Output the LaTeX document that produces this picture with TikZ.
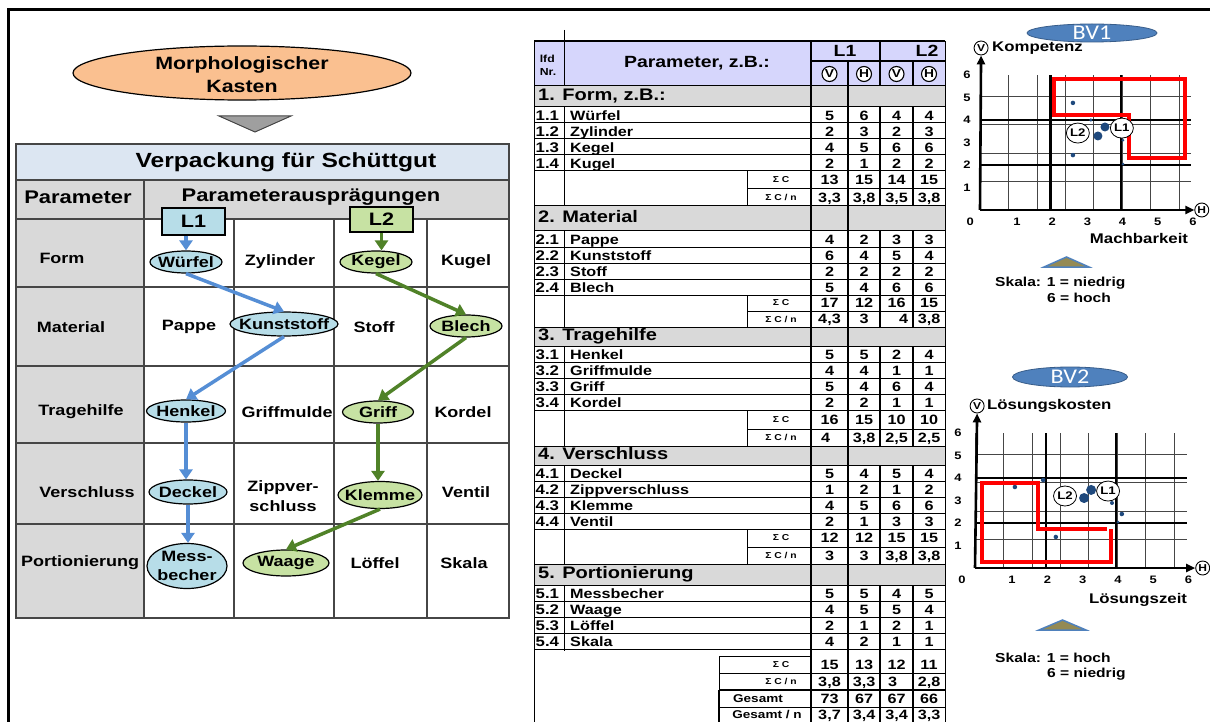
\documentclass[tikz,border=0pt]{standalone}
\usepackage{fontspec}
\setmainfont{Liberation Sans}[FakeStretch=1.2]
\newfontfamily\bvfont{Carlito}[FakeStretch=1.15]
\usetikzlibrary{shapes.geometric,arrows.meta}
\definecolor{morphfill}{RGB}{250,192,144}
\definecolor{titlefill}{RGB}{220,230,242}
\definecolor{hdrgrey}{RGB}{217,217,217}
\definecolor{lonefill}{RGB}{183,221,232}
\definecolor{ltwofill}{RGB}{199,226,163}
\definecolor{loneline}{RGB}{85,142,213}
\definecolor{ltwoline}{RGB}{80,130,40}
\definecolor{lavender}{RGB}{214,214,252}
\definecolor{bandgrey}{RGB}{217,217,217}
\definecolor{dotblue}{RGB}{31,73,125}
\definecolor{bvfill}{RGB}{79,129,189}
\definecolor{bvline}{RGB}{56,93,138}
\definecolor{olivefill}{RGB}{148,138,84}
\definecolor{gridgrey}{RGB}{70,70,70}
\newcommand{\fs}[1]{\fontsize{#1}{#1}\selectfont}
\tikzset{
  tl/.style={line width=1pt, black},
  tk/.style={line width=2.6pt, black},
  tm/.style={line width=1.8pt, black},
  ltab/.style={line width=1.3pt, gridgrey},
  cell/.style={font=\bfseries\fontsize{15}{19.5}\selectfont, align=center, inner sep=0pt},
  lone/.style={ellipse, draw=black, line width=1.2pt, fill=lonefill, inner sep=0pt},
  ltwo/.style={lone, fill=ltwofill},
  lonearr/.style={line width=3.5pt, loneline, -{Triangle[length=10pt,width=13pt]}},
  ltwoarr/.style={lonearr, ltwoline},
  dt/.style={font=\bfseries\fs{13.5}, inner sep=0pt, text height=9.7pt, text depth=0pt},
  nrt/.style={dt, font=\bfseries\fs{14}},
  bt/.style={font=\bfseries\fs{16.7}, inner sep=0pt, anchor=west, text height=12pt, text depth=3.4pt},
  st/.style={font=\bfseries\fs{8.6}, inner sep=0pt},
  vh/.style={circle, draw=black, fill=white, line width=1.1pt, inner sep=0pt, minimum size=15pt, font=\bfseries\fs{11.5}},
  vhs/.style={circle, draw=black, fill=white, line width=0.9pt, inner sep=0pt, minimum size=14pt, font=\bfseries\fs{10}},
  tick/.style={font=\bfseries\fs{10.8}, inner sep=0pt},
  ax/.style={line width=2.6pt, black, -{Triangle[length=9pt,width=8pt]}},
  dot/.style={circle, fill=dotblue, inner sep=0pt},
  lbl/.style={ellipse, draw=black, fill=white, line width=0.8pt, inner sep=0pt, minimum width=23pt, minimum height=20pt, font=\bfseries\fs{11}},
  redline/.style={red, line width=4pt, line join=miter},
  bv/.style={ellipse, fill=bvfill, draw=bvline, line width=0.8pt, inner sep=0pt},
  bvtext/.style={text=white, font=\bvfont\fs{21}, inner sep=0pt},
  skala/.style={font=\bfseries\fs{13}, inner sep=0pt, anchor=west},
  axlab/.style={font=\bfseries\fs{14}, inner sep=0pt},
}
% data row: top, id, nr, label, v1..v4
\newcommand{\drow}[8]{%
  \draw[tl] (534,#1+16) -- (945,#1+16);
  \node[nrt, anchor=west] (nr#2) at (535.5,#1+8.5) {#3};
  \node[dt, anchor=west] (lb#2) at (570,#1+8.5) {#4};
  \node[dt] (va#2) at (829.5,#1+8.5) {#5};
  \node[dt] (vb#2) at (864,#1+8.5) {#6};
  \node[dt] (vc#2) at (896.5,#1+8.5) {#7};
  \node[dt] (vd#2) at (929,#1+8.5) {#8};
}
% band: top, bottom, id, text
\newcommand{\band}[4]{%
  \fill[bandgrey] (534,#1) rectangle (945,#2);
  \draw[tl] (534,#1) -- (945,#1);
  \draw[tl] (534,#2) -- (945,#2);
  \node[bt] (band#3) at (538,{(#1+#2)/2}) {#4};
}
% sum row: left, top, bottom, id, label, v1..v4
\newcommand{\srow}[9]{%
  \draw[tl] (#1,#2) -- (811,#2) (#1,#3) -- (945,#3) (#1,#2) -- (#1,#3);
  \node[st] (sl#4) at (781,{(#2+#3)/2}) {#5};
  \node[dt] (sa#4) at (829.5,{(#2+#3)/2}) {#6};
  \node[dt] (sb#4) at (864,{(#2+#3)/2}) {#7};
  \node[dt] (sc#4) at (896.5,{(#2+#3)/2}) {#8};
  \node[dt] (sd#4) at (929,{(#2+#3)/2}) {#9};
}
% ellipse with text: style, name, x, y, w, h, text
\newcommand{\ellnode}[7]{%
  \node[#1, minimum width=#5, minimum height=#6] (#2) at (#3,#4) {};
  \node[cell] (#2T) at (#3,#4) {#7};
}
\begin{document}
\begin{tikzpicture}[x=1pt,y=-1pt]
\useasboundingbox (0,0) rectangle (1210,722);
\clip (0,0) rectangle (1210,722);
\fill[white] (0,0) rectangle (1210,722);
% outer frame
\draw[line width=3pt, black] (8,10) rectangle (1240,760);

% ---------------- left part ----------------
\node[ellipse, draw=black, line width=1.2pt, fill=morphfill, minimum width=338, minimum height=54, inner sep=0pt] (morph) at (242,73) {};
\node[font=\bfseries\fontsize{17.8}{23}\selectfont, align=center, inner sep=0pt] (morphT) at (242,75) {Morphologischer\\Kasten};
\fill[gray!75, draw=gridgrey, line width=1pt] (219,116) -- (291,116) -- (255,132) -- cycle;

\fill[titlefill] (16,144) rectangle (509,180);
\fill[hdrgrey] (16,180) rectangle (509,219);
\fill[hdrgrey] (16,219) rectangle (144,618);
\draw[ltab] (16,144) rectangle (509,618);
\draw[ltab] (16,180) -- (509,180) (16,219) -- (509,219) (16,287) -- (509,287)
  (16,366) -- (509,366) (16,443) -- (509,443) (16,524) -- (509,524);
\draw[ltab] (144,180) -- (144,618) (234,219) -- (234,618) (334,219) -- (334,618) (427,219) -- (427,618);

\node[font=\bfseries\fs{20.5}, inner sep=0pt] (title) at (286,162) {Verpackung für Schüttgut};
\node[font=\bfseries\fs{18.3}, inner sep=0pt] (hpar) at (78,197) {Parameter};
\node[font=\bfseries\fs{18.3}, inner sep=0pt] (haus) at (311,197) {Parameterausprägungen};

\node[cell] (rform) at (62,258) {Form};
\node[cell] (rmat) at (71,327) {Material};
\node[cell] (rtrag) at (81,412) {Tragehilfe};
\node[cell] (rvers) at (87,492) {Verschluss};
\node[cell] (rport) at (80,563) {Portionierung};

\ellnode{lone}{wuerfel}{186}{262}{72}{22}{Würfel}
\node[cell] (zyl) at (280,262) {Zylinder};
\ellnode{ltwo}{kegel}{376}{262}{72}{22}{Kegel}
\node[cell] (kugel) at (466,262) {Kugel};

\node[cell] (pappe) at (189,327) {Pappe};
\ellnode{lone}{kunst}{284}{324}{108}{24}{Kunststoff}
\node[cell] (stoff) at (374,327) {Stoff};
\ellnode{ltwo}{blech}{466}{326}{72}{22}{Blech}

\ellnode{lone}{henkel}{186}{411}{79}{22}{Henkel}
\node[cell] (griffm) at (287,412) {Griffmulde};
\ellnode{ltwo}{griff}{378}{412}{71}{22}{Griff}
\node[cell] (kordel) at (463,412) {Kordel};

\ellnode{lone}{deckel}{188}{492}{78}{24}{Deckel}
\node[cell] (zipp) at (283,496) {Zippver-\\schluss};
\ellnode{ltwo}{klemme}{380}{495}{84}{27}{Klemme}
\node[cell] (ventil) at (466,492) {Ventil};

\ellnode{lone}{mess}{187}{566}{80}{45}{Mess-\\becher}
\ellnode{ltwo}{waage}{286}{563}{86}{26}{Waage}
\node[cell] (loeffel) at (375,563) {Löffel};
\node[cell] (skalaL) at (464,563) {Skala};

\node[draw=black, line width=1.2pt, fill=lonefill, minimum width=63, minimum height=27, inner sep=0pt, font=\bfseries\fs{18}] (Lone) at (193.5,221.5) {L1};
\node[draw=black, line width=1.2pt, fill=ltwofill, minimum width=63, minimum height=25, inner sep=0pt, font=\bfseries\fs{18}] (Ltwo) at (381.5,219.5) {L2};

\draw[lonearr] (Lone.south -| wuerfel.north) -- (wuerfel.north);
\draw[lonearr] (wuerfel.south) -- (kunst.north);
\draw[lonearr] (kunst.south) -- (henkel.north);
\draw[lonearr] (henkel.south) -- (henkel.south |- deckel.north);
\draw[lonearr] (deckel.south) -- (deckel.south |- mess.north);

\draw[ltwoarr] (Ltwo.south) -- (Ltwo.south |- kegel.north);
\draw[ltwoarr] (kegel.south) -- (blech.north);
\draw[ltwoarr] (blech.south) -- (griff.north);
\draw[ltwoarr] (griff.south) -- (griff.south |- klemme.north);
\draw[ltwoarr] (klemme.south) -- (waage.north);

% ---------------- middle table ----------------
\fill[lavender] (534,41) rectangle (945,86);
\draw[tm] (534,41) -- (945,41);
\draw[tl] (564,30) -- (564,86);
\draw[tm] (811,61) -- (945,61);
\draw[tm] (880,41) -- (880,86) (913,61) -- (913,86);
\node[font=\bfseries\fontsize{10.2}{13}\selectfont, align=left, inner sep=0pt] (lfd) at (548,65) {lfd\\Nr.};
\node[font=\bfseries\fs{16.2}, inner sep=0pt] (hpz) at (697,63) {Parameter, z.B.:};
\node[font=\bfseries\fs{16.2}, inner sep=0pt] (hLone) at (845,51) {L1};
\node[font=\bfseries\fs{16.2}, inner sep=0pt] (hLtwo) at (927,51) {L2};
\node[vh] (hVa) at (829.5,74) {V};
\node[vh] (hHa) at (864,74) {H};
\node[vh] (hVb) at (896.5,74) {V};
\node[vh] (hHb) at (929,74) {H};

\band{86}{107}{1}{1. Form, z.B.:}
\drow{107}{11}{1.1}{Würfel}{5}{6}{4}{4}
\drow{123}{12}{1.2}{Zylinder}{2}{3}{2}{3}
\drow{139}{13}{1.3}{Kegel}{4}{5}{6}{6}
\drow{155}{14}{1.4}{Kugel}{2}{1}{2}{2}
\srow{747}{171}{189}{1a}{Σ C}{13}{15}{14}{15}
\srow{747}{189}{206}{1b}{Σ C / n}{3,3}{3,8}{3,5}{3,8}

\band{206}{231}{2}{2. Material}
\drow{231}{21}{2.1}{Pappe}{4}{2}{3}{3}
\drow{247}{22}{2.2}{Kunststoff}{6}{4}{5}{4}
\drow{263}{23}{2.3}{Stoff}{2}{2}{2}{2}
\drow{279}{24}{2.4}{Blech}{5}{4}{6}{6}
\srow{747}{295}{311}{2a}{Σ C}{17}{12}{16}{15}
\srow{747}{311}{327}{2b}{Σ C / n}{4,3}{3}{\hspace*{14pt}4}{3,8}

\band{327}{346}{3}{3. Tragehilfe}
\drow{346}{31}{3.1}{Henkel}{5}{5}{2}{4}
\drow{362}{32}{3.2}{Griffmulde}{4}{4}{1}{1}
\drow{378}{33}{3.3}{Griff}{5}{4}{6}{4}
\drow{394}{34}{3.4}{Kordel}{2}{2}{1}{1}
\srow{747}{410}{429}{3a}{Σ C}{16}{15}{10}{10}
\srow{747}{429}{446}{3b}{Σ C / n}{4\hspace*{8pt}}{3,8}{2,5}{2,5}

\band{446}{465}{4}{4. Verschluss}
\drow{465}{41}{4.1}{Deckel}{5}{4}{5}{4}
\drow{481}{42}{4.2}{Zippverschluss}{1}{2}{1}{2}
\drow{497}{43}{4.3}{Klemme}{4}{5}{6}{6}
\drow{513}{44}{4.4}{Ventil}{2}{1}{3}{3}
\srow{747}{529}{547}{4a}{Σ C}{12}{12}{15}{15}
\srow{747}{547}{564}{4b}{Σ C / n}{3}{3}{3,8}{3,8}

\band{564}{585}{5}{5. Portionierung}
\drow{585}{51}{5.1}{Messbecher}{5}{5}{4}{5}
\drow{601}{52}{5.2}{Waage}{4}{5}{5}{4}
\drow{617}{53}{5.3}{Löffel}{2}{1}{2}{1}
\drow{633}{54}{5.4}{Skala}{4}{2}{1}{1}
\srow{719}{656}{673}{5a}{Σ C}{15}{13}{12}{11}
\srow{719}{673}{690}{5b}{Σ C / n}{3,8}{3,3}{3\hspace*{8pt}}{2,8}
\draw[tl] (719,707) -- (945,707);
\draw[tm] (719,690) -- (945,690) (719,690) -- (719,730);
\node[font=\bfseries\fs{11.3}, inner sep=0pt] (ges) at (758,699) {Gesamt};
\node[dt] (gesa) at (829.5,698.5) {73};
\node[dt] (gesb) at (864,698.5) {67};
\node[dt] (gesc) at (896.5,698.5) {67};
\node[dt] (gesd) at (929,698.5) {66};
\node[font=\bfseries\fs{11.3}, inner sep=0pt] (gesn) at (767,714.5) {Gesamt / n};
\node[dt] (gesna) at (829.5,714.5) {3,7};
\node[dt] (gesnb) at (864,714.5) {3,4};
\node[dt] (gesnc) at (896.5,714.5) {3,4};
\node[dt] (gesnd) at (929,714.5) {3,3};

% vertical lines of the middle table
\draw[tl] (534,41) -- (534,730) (945,41) -- (945,730);
\draw[tk] (811,41) -- (811,730) (848,61) -- (848,730);
\draw[tl] (564,107) -- (564,206) (564,231) -- (564,327) (564,346) -- (564,446) (564,465) -- (564,564) (564,585) -- (564,651);
\draw[tm] (880,107) -- (880,206) (880,231) -- (880,327) (880,346) -- (880,446) (880,465) -- (880,564) (880,585) -- (880,730);
\draw[tm] (913,107) -- (913,206) (913,231) -- (913,327) (913,346) -- (913,446) (913,465) -- (913,564) (913,585) -- (913,730);

% ---------------- chart BV1 ----------------
\node[bv, minimum width=130, minimum height=18] (bvone) at (1092,33) {};
\node[bvtext] (bvoneT) at (1092,33) {BV1};
\begin{scope}[shift={(980,210)}, x=35.2pt, y=22.5pt]
  \draw[gridgrey, line width=0.8pt] (0,0) grid (6,6);
  \draw[black, line width=2.2pt] (2,0) -- (2,6) (4,0) -- (4,6) (0,2) -- (6,2) (0,4) -- (6,4);
  \draw[redline] (2.1,5.82) -- (5.82,5.82) -- (5.82,2.31) -- (4.23,2.31) -- (4.23,4.22) -- (2.1,4.22) -- cycle;
  \node[vhs] (aV) at (0.03,7.2) {V};
  \node[vhs] (aH) at (6.3,0) {H};
  \draw[ax] (0,0) -- (aV.south);
  \draw[ax] (0,0) -- (aH.west);
  \node[axlab, anchor=west] (akomp) at (0.34,7.2) {Kompetenz};
  \node[dot, minimum size=4.5pt] (ad1) at (2.64,4.76) {};
  \node[dot, minimum size=4.5pt] (ad2) at (2.64,2.44) {};
  \node[dot, minimum size=3.5pt] (ad3) at (3.15,4.0) {};
  \node[dot, minimum size=3pt] (ad4) at (4.06,2.04) {};
  \node[dot, minimum size=3pt] (ad5) at (4.06,3.1) {};
  \node[dot, minimum size=9pt] (ad6) at (3.55,3.69) {};
  \node[dot, minimum size=9pt] (ad7) at (3.35,3.29) {};
  \node[lbl] (aLtwo) at (2.78,3.42) {L2};
  \node[lbl] (aLone) at (4.03,3.64) {L1};
  \foreach \i in {1,...,6} {\node[tick] (axt\i) at (\i+0.05,-0.53) {\i};}
  \foreach \j in {1,...,6} {\node[tick] (ayt\j) at (-0.37,\j) {\j};}
  \node[tick] (aorig) at (-0.28,-0.53) {0};
\end{scope}
\node[axlab] (mach) at (1139,238) {Machbarkeit};
\fill[olivefill, draw=bvfill, line width=1.5pt] (1044,267) -- (1089,267) -- (1066.5,257) -- cycle;
\node[skala] (skaone) at (995,283) {Skala: 1 = niedrig};
\node[skala] (skatwo) at (1047,298) {6 = hoch};

% ---------------- chart BV2 ----------------
\node[bv, minimum width=115, minimum height=20] (bvtwo) at (1070,377) {};
\node[bvtext] (bvtwoT) at (1070,377) {BV2};
\begin{scope}[shift={(975,568)}, x=35.3pt, y=22.5pt]
  \draw[gridgrey, line width=0.8pt] (0,0) grid (6,6);
  \draw[black, line width=2.2pt] (2,0) -- (2,6) (4,0) -- (4,6) (0,2) -- (6,2) (0,4) -- (6,4);
  \draw[redline] (3.74,1.73) -- (1.78,1.73) -- (1.78,3.78) -- (0.2,3.78) -- (0.2,0.27) -- (3.85,0.27) -- (3.85,1.73);
  \node[vhs] (bV) at (0.06,7.2) {V};
  \node[vhs] (bH) at (6.45,0) {H};
  \draw[ax] (0,0) -- (bV.south);
  \draw[ax] (0,0) -- (bH.west);
  \node[axlab, anchor=west] (bkost) at (0.34,7.2) {Lösungskosten};
  \node[dot, minimum size=4.5pt] (bd1) at (1.13,3.6) {};
  \node[dot, minimum size=4.5pt] (bd2) at (1.93,3.91) {};
  \node[dot, minimum size=4.5pt] (bd3) at (2.29,1.38) {};
  \node[dot, minimum size=4pt] (bd4) at (3.88,2.89) {};
  \node[dot, minimum size=4.5pt] (bd5) at (4.16,2.4) {};
  \node[dot, minimum size=3pt] (bd6) at (4.05,2.04) {};
  \node[dot, minimum size=10pt] (bd7) at (3.09,3.11) {};
  \node[dot, minimum size=10pt] (bd8) at (3.29,3.47) {};
  \node[lbl] (bLtwo) at (2.55,3.2) {L2};
  \node[lbl] (bLone) at (3.77,3.42) {L1};
  \foreach \i in {1,...,6} {\node[tick] (bxt\i) at (\i+0.05,-0.53) {\i};}
  \foreach \j in {1,...,6} {\node[tick] (byt\j) at (-0.48,\j) {\j};}
  \node[tick] (borig) at (-0.37,-0.53) {0};
\end{scope}
\node[axlab] (lzeit) at (1138,600) {Lösungszeit};
\fill[olivefill, draw=bvfill, line width=1.5pt] (1039,630) -- (1086,630) -- (1062.5,620) -- cycle;
\node[skala] (skathree) at (995,658) {Skala: 1 = hoch};
\node[skala] (skafour) at (1047,674) {6 = niedrig};
\end{tikzpicture}
\end{document}
